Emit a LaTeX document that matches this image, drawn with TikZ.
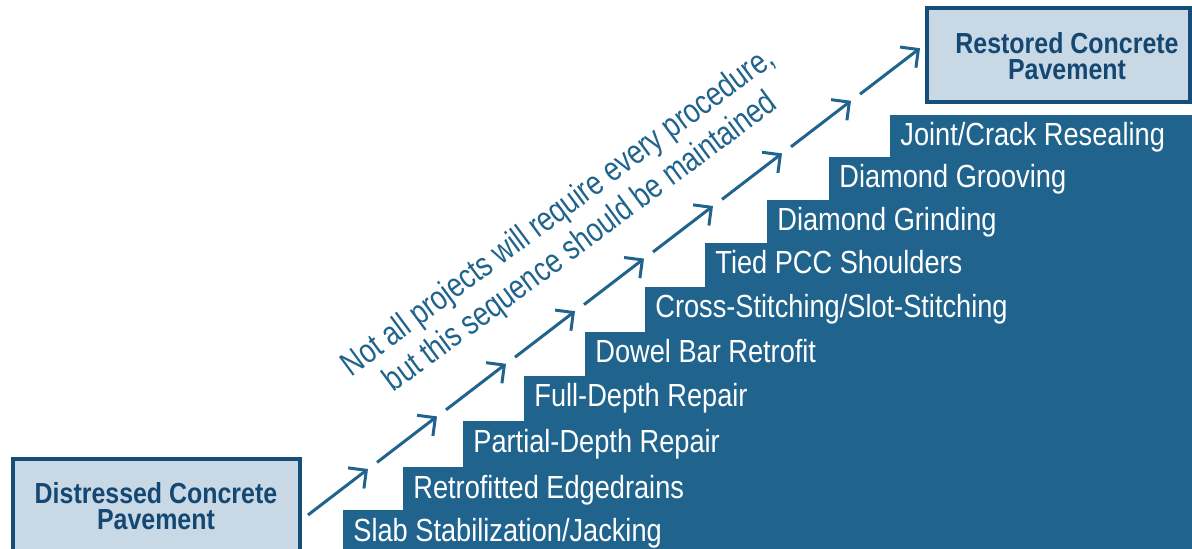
\documentclass[tikz,border=0pt]{standalone}
\usepackage{fontspec}
\setmainfont[FakeStretch=0.85]{Liberation Sans}
\newfontfamily\boxfont[FakeStretch=0.86]{Liberation Sans}
\newfontfamily\notefont[FakeStretch=0.8]{Liberation Sans}
\usetikzlibrary{arrows.meta}
\definecolor{stepblue}{RGB}{32,100,142}
\definecolor{boxfill}{RGB}{200,216,229}
\definecolor{boxline}{RGB}{22,78,122}
\definecolor{boxtext}{RGB}{20,72,115}
\begin{document}
\begin{tikzpicture}[x=0.5pt,y=-0.5pt,
  stepfill/.style={fill=stepblue,draw=none},
  steplabel/.style={anchor=base west,text=white,inner sep=0pt,font=\fontsize{16}{18}\selectfont},
  endbox/.style={draw=boxline,line width=1.6pt,fill=boxfill},
  endtext/.style={text=boxtext,align=center,font=\boxfont\bfseries\fontsize{14.5}{13}\selectfont},
  seqarrow/.style={draw=stepblue,line width=1.5pt,-{Straight Barb[length=6.5pt,width=13pt]}},
  note/.style={text=stepblue,align=center,font=\notefont\fontsize{17}{19}\selectfont}]
\clip (0,0) rectangle (1192,549);
\fill[white] (0,0) rectangle (1192,549);
% steps
\foreach \lx/\ty in {343/510,403/467,463/421,524/376,585/332,645/287,705/243,767/200,829/157,890/115}{
  \fill[stepfill] (\lx,\ty) rectangle (1195,552);
}
\foreach \lx/\ty/\lab [count=\i] in {
  343/510/{Slab Stabilization/Jacking},
  403/467/{Retrofitted Edgedrains},
  463/421/{Partial-Depth Repair},
  524/376/{Full-Depth Repair},
  585/332/{Dowel Bar Retrofit},
  645/287/{Cross-Stitching/Slot-Stitching},
  705/243/{Tied PCC Shoulders},
  767/200/{Diamond Grinding},
  829/157/{Diamond Grooving},
  890/115/{Joint/Crack Resealing}}{
  \node[steplabel] (l\i) at (\lx+10,\ty+31) {\lab};
}
% end boxes
\draw[endbox] (13,459) rectangle (300,560);
\node[endtext] (start) at (156,506) {Distressed Concrete\\Pavement};
\draw[endbox] (927,8) rectangle (1190,102);
\node[endtext] (goal) at (1067,56) {Restored Concrete\\Pavement};
% sequence arrows
\foreach \i in {0,...,8}{
  \coordinate (a\i) at (308+69*\i,515-52.6*\i);
  \coordinate (b\i) at (368+69*\i,469-52.6*\i);
  \draw[seqarrow] (a\i) -- (b\i);
}
\node[note,rotate=36.5] (note) at (570,228) {Not all projects will require every procedure,\\but this sequence should be maintained};
\end{tikzpicture}
\end{document}
